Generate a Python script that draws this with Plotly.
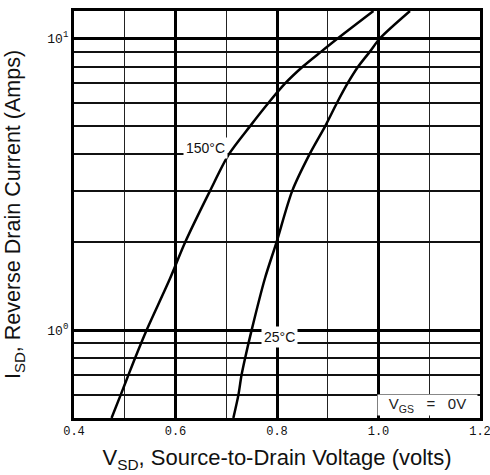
import plotly.graph_objects as go
import math

# ---- data ----
current_amps = [0.5, 0.6, 0.7, 0.8, 1.0, 1.5, 2.0, 3.0, 4.0, 5.0, 6.0, 7.0, 8.0, 9.0, 10.0, 12.4]
vsd_150c = [0.474, 0.492, 0.507, 0.520, 0.543, 0.589, 0.619, 0.668, 0.705, 0.747, 0.783, 0.816, 0.851, 0.887, 0.920, 0.990]
vsd_25c = [0.714, 0.724, 0.730, 0.737, 0.750, 0.776, 0.799, 0.830, 0.864, 0.895, 0.918, 0.939, 0.960, 0.983, 1.003, 1.062]

x_tick_vals = [0.4, 0.6, 0.8, 1.0, 1.2]
x_tick_text = ["0.4", "0.6", "0.8", "1.0", "1.2"]
y_tick_vals = [1, 10]
y_tick_text = ["10<sup>0</sup>", "10<sup>1</sup>"]
y_minor_vals = [0.5, 0.6, 0.7, 0.8, 0.9, 2, 3, 4, 5, 6, 7, 8, 9]

fig = go.Figure()
for name, v in [("150°C", vsd_150c), ("25°C", vsd_25c)]:
    fig.add_trace(go.Scatter(x=v, y=current_amps, mode="lines", name=name,
                             line=dict(color="black", width=2.5, shape="spline", smoothing=0.8),
                             showlegend=False))

tick_font = dict(family="Liberation Mono, DejaVu Sans Mono, monospace", size=12, color="#111")
ytick_font = dict(family="Liberation Mono, DejaVu Sans Mono, monospace", size=13, color="#111")
xtitle_font = dict(family="Liberation Sans, Arial, sans-serif", size=22, color="#111")
ytitle_font = dict(family="Liberation Sans, Arial, sans-serif", size=21.5, color="#111")
label_font = dict(family="Liberation Sans, Arial, sans-serif", size=14, color="#111")
nb = "\u00a0"

fig.update_layout(
    template="none",
    width=490, height=475,
    margin=dict(l=74, r=10, t=11, b=57),
    paper_bgcolor="white", plot_bgcolor="white",
    xaxis=dict(
        range=[0.4, 1.2], tickmode="array", tickvals=x_tick_vals, ticktext=x_tick_text,
        tickfont=tick_font, ticks="", ticklen=0, automargin=False, ticklabeloverflow="allow",
        showgrid=True, gridcolor="black", gridwidth=2.5, zeroline=False,
        showline=True, linecolor="black", linewidth=3, mirror=True,
        minor=dict(dtick=0.1, tick0=0.4, showgrid=True, gridcolor="#222", gridwidth=1),
        title=dict(text="V<sub>SD</sub>, Source-to-Drain Voltage (volts)", font=xtitle_font, standoff=12),
    ),
    yaxis=dict(
        type="log", range=[math.log10(0.5), math.log10(12.4)],
        tickmode="array", tickvals=y_tick_vals, ticktext=y_tick_text,
        tickfont=ytick_font, ticks="", ticklen=0, automargin=False,
        showgrid=True, gridcolor="black", gridwidth=3, zeroline=False,
        showline=True, linecolor="black", linewidth=3, mirror=True,
        minor=dict(tickmode="array", tickvals=y_minor_vals, showgrid=True, gridcolor="#111", gridwidth=1.5),
        title=dict(text="I<sub>SD</sub>, Reverse Drain Current (Amps)", font=ytitle_font, standoff=21),
    ),
    annotations=[
        dict(x=0.660, y=math.log10(4.2), xref="x", yref="y", text="150°C", showarrow=False,
             font=label_font, bgcolor="white", borderpad=2),
        dict(x=0.804, y=math.log10(0.944), xref="x", yref="y", text="25°C", showarrow=False,
             font=label_font, bgcolor="white", borderpad=2),
        dict(x=1, y=0, xref="paper", yref="paper", xanchor="right", yanchor="bottom",
             xshift=-2, yshift=2, width=95, height=16, borderpad=2, align="center",
             text="V<sub>GS</sub>" + nb * 3 + "=" + nb * 3 + "0V", showarrow=False,
             font=dict(family="Liberation Sans, Arial, sans-serif", size=15, color="#222"),
             bgcolor="white"),
    ],
)

# remove the browser's default 8px body margin so the figure fills the window exactly
fig.write_html("out.html", config={"displayModeBar": False},
               post_script="document.body.style.margin='0';")
